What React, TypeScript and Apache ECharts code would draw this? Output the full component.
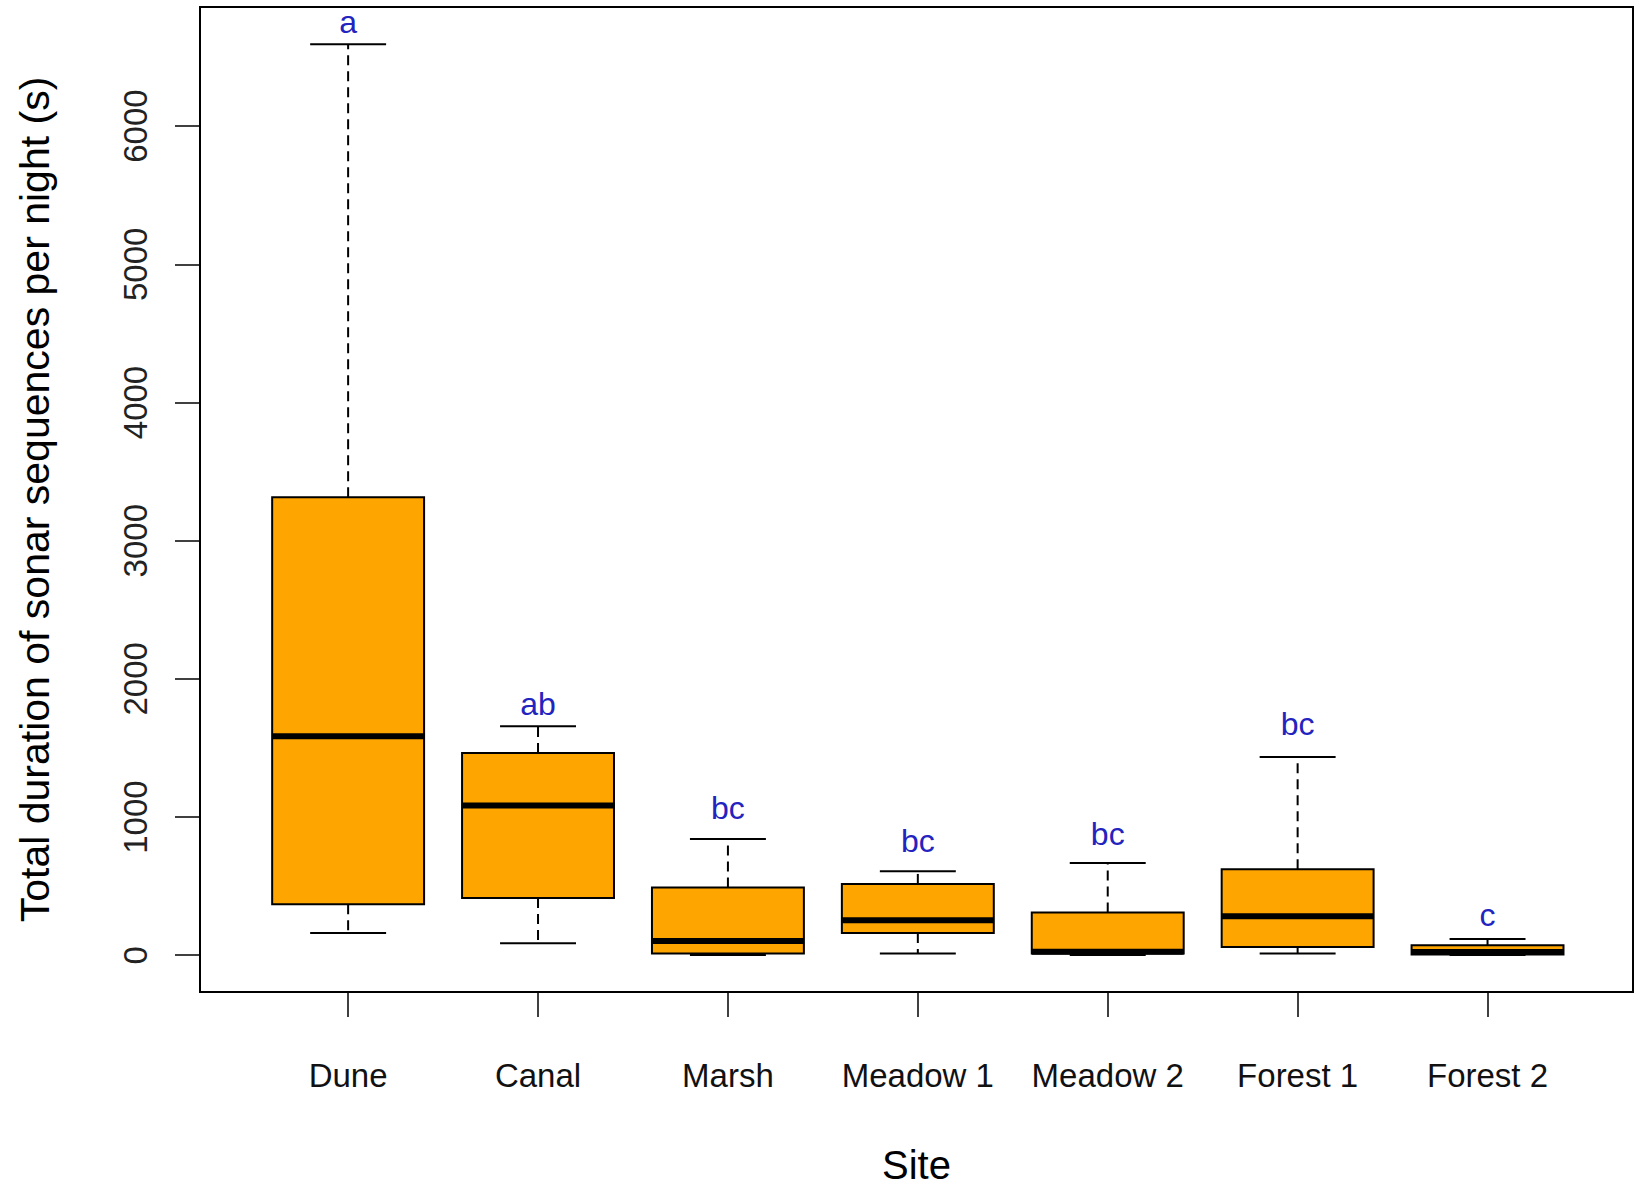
import React, { useEffect, useRef } from "react";
import * as echarts from "echarts";

const categories = ["Dune", "Canal", "Marsh", "Meadow 1", "Meadow 2", "Forest 1", "Forest 2"];
const whiskerLow = [161, 87, 2, 12, 2, 12, 1];
const quartile1 = [369, 415, 12, 161, 12, 60, 5];
const medians = [1585, 1083, 103, 253, 26, 282, 24];
const quartile3 = [3315, 1464, 490, 516, 309, 622, 72];
const whiskerHigh = [6592, 1657, 842, 608, 668, 1435, 118];
const groupLetters = ["a", "ab", "bc", "bc", "bc", "bc", "c"];
const letterY = [6752, 1818, 1063, 826, 878, 1673, 288];
const yTicks = [0, 1000, 2000, 3000, 4000, 5000, 6000];
const xTicks = [1, 2, 3, 4, 5, 6, 7];

const FONT = "'Liberation Sans', Arial, sans-serif";

export default function App() {
  const ref = useRef<HTMLDivElement>(null);
  useEffect(() => {
    if (!ref.current) return;
    const chart = echarts.init(ref.current, null, { renderer: "svg" });
    const data = categories.map((_, i) => [
      i + 1,
      whiskerLow[i],
      quartile1[i],
      medians[i],
      quartile3[i],
      whiskerHigh[i],
      letterY[i],
      i,
    ]);
    const option: any = {
      animation: false,
      backgroundColor: "#fff",
      textStyle: { fontFamily: FONT },
      grid: {
        left: 200,
        right: 1,
        top: 7,
        bottom: 197,
        containLabel: false,
        outerBoundsMode: "none",
        show: true,
        borderColor: "#000",
        borderWidth: 2,
        backgroundColor: "transparent",
      },
      xAxis: {
        type: "value",
        min: 0.22,
        max: 7.766,
        name: "Site",
        nameLocation: "middle",
        nameGap: 153,
        nameTextStyle: { fontSize: 40, lineHeight: 40, color: "#000", fontFamily: FONT },
        axisLine: { show: false, onZero: false },
        splitLine: { show: false },
        axisTick: {
          show: true,
          customValues: xTicks,
          length: 25,
          inside: false,
          lineStyle: { color: "#000", width: 1.5 },
        },
        axisLabel: {
          customValues: xTicks,
          margin: 67,
          fontSize: 33,
          color: "#111",
          fontFamily: FONT,
          formatter: (v: number) => categories[Math.round(v) - 1] ?? "",
        },
      },
      yAxis: {
        type: "value",
        min: -266,
        max: 6862,
        name: "Total duration of sonar sequences per night (s)",
        nameLocation: "middle",
        nameGap: 145,
        nameTextStyle: { fontSize: 41, color: "#000", fontFamily: FONT },
        axisLine: { show: false, onZero: false },
        splitLine: { show: false },
        axisTick: {
          show: true,
          customValues: yTicks,
          length: 25,
          inside: false,
          lineStyle: { color: "#000", width: 1.5 },
        },
        axisLabel: {
          customValues: yTicks,
          rotate: 90,
          margin: 48,
          fontSize: 33,
          color: "#222",
          fontFamily: FONT,
          formatter: (v: number) => String(v),
        },
      },
      series: [
        {
          type: "custom",
          data,
          clip: false,
          renderItem: (params: any, api: any) => {
            const x = api.value(0);
            const lo = api.value(1);
            const q1 = api.value(2);
            const med = api.value(3);
            const q3 = api.value(4);
            const hi = api.value(5);
            const ly = api.value(6);
            const idx = api.value(7);
            const half = api.size([0.8, 0])[0] / 2;
            const cx = api.coord([x, 0])[0];
            const py = (v: number) => api.coord([x, v])[1];
            const dash = { stroke: "#000", lineWidth: 2, lineDash: [10, 6] };
            const solid = { stroke: "#000", lineWidth: 2 };
            return {
              type: "group",
              children: [
                { type: "line", shape: { x1: cx, y1: py(q3), x2: cx, y2: py(hi) }, style: dash },
                { type: "line", shape: { x1: cx, y1: py(q1), x2: cx, y2: py(lo) }, style: dash },
                { type: "line", shape: { x1: cx - half / 2, y1: py(hi), x2: cx + half / 2, y2: py(hi) }, style: solid },
                { type: "line", shape: { x1: cx - half / 2, y1: py(lo), x2: cx + half / 2, y2: py(lo) }, style: solid },
                {
                  type: "rect",
                  shape: { x: cx - half, y: py(q3), width: half * 2, height: py(q1) - py(q3) },
                  style: { fill: "#FFA500", stroke: "#000", lineWidth: 2 },
                },
                {
                  type: "line",
                  shape: { x1: cx - half, y1: py(med), x2: cx + half, y2: py(med) },
                  style: { stroke: "#000", lineWidth: 6 },
                },
                {
                  type: "text",
                  x: cx,
                  y: py(ly),
                  style: {
                    text: groupLetters[idx],
                    fill: "#2323C0",
                    fontSize: 32,
                    fontFamily: FONT,
                    align: "center",
                    verticalAlign: "middle",
                  },
                },
              ],
            };
          },
        },
      ],
    };
    chart.setOption(option);
    return () => chart.dispose();
  }, []);
  return (
    <div
      ref={ref}
      style={{ position: "absolute", left: 0, top: 0, width: 1634, height: 1189, background: "#fff" }}
    />
  );
}
